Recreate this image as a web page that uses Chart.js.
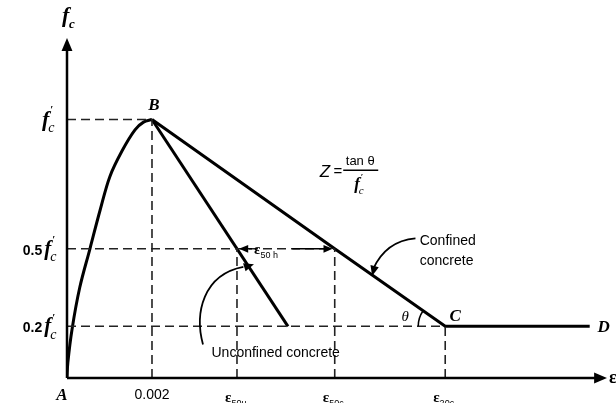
<!DOCTYPE html>
<html>
<head>
<meta charset="utf-8">
<script src="https://cdn.jsdelivr.net/npm/chart.js@4/dist/chart.umd.min.js"></script>
<style>
  html, body { margin: 0; padding: 0; background: #fff; }
  #wrap { width: 616px; height: 403px; position: relative; }
</style>
</head>
<body>
<div id="wrap"><canvas id="c"></canvas></div>
<script>
// strain (x) and stress ratio f/f'c (y)
const strainTicks = [0, 0.002, 0.0040, 0.0063, 0.0089];
const strainTickLabels = ['A', '0.002', 'u', 'c', 'c'];
const stressTicks = [1, 0.5, 0.2];
const stressTickLabels = ['', '0.5', '0.2'];

// ascending branch A -> B
const ascStrain = [0, 0.00002, 0.00012, 0.0003, 0.00054, 0.00078, 0.00101, 0.0013, 0.0016, 0.0018, 0.002];
const ascStress = [0, 0.06, 0.19, 0.35, 0.5, 0.65, 0.78, 0.88, 0.96, 0.99, 1.0];

// descending branches
const unconfinedStrain = [0.002, 0.0052];
const unconfinedStress = [1.0, 0.2];
const confinedStrain = [0.002, 0.0063, 0.0089, 0.0123];
const confinedStress = [1.0, 0.5, 0.2, 0.2];

const X_MAX = 0.01266, Y_MAX = 1.30;

const pts = (xs, ys) => xs.map((x, i) => ({ x: x, y: ys[i] }));

// dashed guide lines built from the tick values
const guides = [
  [[0, 1], [0.002, 1]],
  [[0.002, 0], [0.002, 1]],
  [[0, 0.5], [0.0063, 0.5]],
  [[0.0040, 0], [0.0040, 0.5]],
  [[0.0063, 0], [0.0063, 0.5]],
  [[0, 0.2], [0.0089, 0.2]],
  [[0.0089, 0], [0.0089, 0.2]]
];

const datasets = [];
guides.forEach(g => datasets.push({
  data: g.map(p => ({ x: p[0], y: p[1] })),
  borderColor: '#222', borderWidth: 1.6, borderDash: [9, 5],
  pointRadius: 0, showLine: true
}));
datasets.push({ data: pts(ascStrain, ascStress), borderColor: '#000', borderWidth: 3, pointRadius: 0, showLine: true, tension: 0.35 });
datasets.push({ data: pts(unconfinedStrain, unconfinedStress), borderColor: '#000', borderWidth: 3, pointRadius: 0, showLine: true });
datasets.push({ data: pts(confinedStrain, confinedStress), borderColor: '#000', borderWidth: 3, pointRadius: 0, showLine: true });

const SERIF = '"Liberation Serif", "DejaVu Serif", serif';
const SANS = '"Liberation Sans", Arial, sans-serif';

// draws f'c (italic f, prime, subscript c); returns width
function drawFc(ctx, x, y, size, align) {
  ctx.save();
  ctx.font = 'italic bold ' + size + 'px ' + SERIF;
  const wf = ctx.measureText('f').width;
  ctx.font = 'italic ' + Math.round(size * 0.6) + 'px ' + SERIF;
  const wc = ctx.measureText('c').width;
  const w = wf + wc + 2;
  let x0 = align === 'right' ? x - w : align === 'center' ? x - w / 2 : x;
  ctx.textAlign = 'left';
  ctx.textBaseline = 'alphabetic';
  ctx.font = 'italic bold ' + size + 'px ' + SERIF;
  ctx.fillText('f', x0, y);
  ctx.font = 'bold ' + Math.round(size * 0.5) + 'px ' + SERIF;
  ctx.fillText('\u2032', x0 + wf + 1, y - size * 0.55);
  ctx.font = 'italic ' + Math.round(size * 0.65) + 'px ' + SERIF;
  ctx.fillText('c', x0 + wf - 1, y + size * 0.3);
  ctx.restore();
  return w;
}

function drawEps(ctx, x, y, sub, size) {
  ctx.save();
  ctx.textAlign = 'left';
  ctx.font = 'bold ' + size + 'px ' + SERIF;
  const w = ctx.measureText('\u03b5').width;
  ctx.fillText('\u03b5', x, y);
  ctx.font = Math.round(size * 0.6) + 'px ' + SANS;
  ctx.fillText(sub, x + w, y + size * 0.25);
  ctx.restore();
}

function arrowHead(ctx, x, y, ang, len) {
  ctx.beginPath();
  ctx.moveTo(x, y);
  ctx.lineTo(x - len * Math.cos(ang - 0.4), y - len * Math.sin(ang - 0.4));
  ctx.lineTo(x - len * Math.cos(ang + 0.4), y - len * Math.sin(ang + 0.4));
  ctx.closePath();
  ctx.fill();
}

const decor = {
  id: 'decor',
  afterDatasetsDraw(chart) {
    const ctx = chart.ctx;
    const xs = chart.scales.x, ys = chart.scales.y;
    const X = v => xs.getPixelForValue(v), Y = v => ys.getPixelForValue(v);
    const a = chart.chartArea;
    ctx.save();
    ctx.fillStyle = '#000';
    ctx.strokeStyle = '#000';

    // axes with arrows
    ctx.lineWidth = 2.5;
    ctx.beginPath();
    ctx.moveTo(X(0), Y(0)); ctx.lineTo(X(0), a.top + 4);
    ctx.moveTo(X(0), Y(0)); ctx.lineTo(a.right - 4, Y(0));
    ctx.stroke();
    arrowHead(ctx, X(0), a.top - 4, -Math.PI / 2, 14);
    arrowHead(ctx, a.right + 2, Y(0), 0, 14);

    // axis titles
    ctx.font = 'italic bold 22px ' + SERIF;
    ctx.textAlign = 'left';
    ctx.fillText('f', X(0) - 5, a.top - 20);
    ctx.font = 'italic bold 13px ' + SERIF;
    ctx.fillText('c', X(0) + 2, a.top - 14);
    ctx.font = 'bold 18px ' + SERIF;
    ctx.fillText('\u03b5', a.right + 4, Y(0) + 5);

    // y tick labels
    ctx.textBaseline = 'alphabetic';
    drawFc(ctx, X(0) - 10, Y(stressTicks[0]) + 6, 22, 'right');
    for (let i = 1; i < stressTicks.length; i++) {
      const y = Y(stressTicks[i]) + 6;
      const w = drawFc(ctx, X(0) - 8, y, 21, 'right');
      ctx.font = 'bold 14px ' + SANS;
      ctx.textAlign = 'right';
      ctx.fillText(stressTickLabels[i], X(0) - 10 - w, y);
    }

    // x tick labels
    ctx.textAlign = 'center';
    ctx.font = 'italic bold 17px ' + SERIF;
    ctx.fillText(strainTickLabels[0], X(strainTicks[0]) - 5, Y(0) + 22);
    ctx.font = '14px ' + SANS;
    ctx.fillText(strainTickLabels[1], X(strainTicks[1]), Y(0) + 21);
    const subs = ['50u', '50c', '20c'];
    for (let i = 2; i < strainTicks.length; i++) {
      drawEps(ctx, X(strainTicks[i]) - 12, Y(0) + 24, subs[i - 2], 15);
    }

    // point labels
    ctx.font = 'italic bold 17px ' + SERIF;
    ctx.textAlign = 'center';
    ctx.fillText('B', X(0.002) + 2, Y(1) - 10);
    ctx.fillText('C', X(0.0089) + 10, Y(0.2) - 5);
    ctx.fillText('D', X(0.0123) + 14, Y(0.2) + 6);
    ctx.font = 'italic 15px ' + SERIF;
    ctx.fillText('\u03b8', X(0.0089) - 40, Y(0.2) - 5);

    // angle arc at C
    ctx.lineWidth = 1.5;
    ctx.beginPath();
    const ang = Math.atan2(Y(0.5) - Y(0.2), X(0.0063) - X(0.0089));
    ctx.arc(X(0.0089), Y(0.2), 27, -Math.PI, ang, false);
    ctx.stroke();

    // Z = tan θ / f'c
    const zx = X(0.0069), zy = Y(0.80);
    ctx.font = 'italic 17px ' + SANS;
    ctx.textAlign = 'right';
    ctx.fillText('Z', zx - 30, zy + 6);
    ctx.font = '15px ' + SANS;
    ctx.fillText('=', zx - 18, zy + 5);
    ctx.font = '13px ' + SANS;
    ctx.textAlign = 'center';
    ctx.fillText('tan \u03b8', zx, zy - 6);
    ctx.lineWidth = 1.4;
    ctx.beginPath(); ctx.moveTo(zx - 17, zy - 1); ctx.lineTo(zx + 18, zy - 1); ctx.stroke();
    drawFc(ctx, zx, zy + 18, 17, 'center');

    // confined concrete label + arrow
    ctx.font = '14px ' + SANS;
    ctx.textAlign = 'left';
    ctx.fillText('Confined', X(0.0083), Y(0.535) + 5);
    ctx.fillText('concrete', X(0.0083), Y(0.455) + 5);
    ctx.lineWidth = 1.8;
    ctx.beginPath();
    ctx.moveTo(X(0.0082), Y(0.54));
    ctx.quadraticCurveTo(X(0.0075), Y(0.53), X(0.0072), Y(0.42));
    ctx.stroke();
    arrowHead(ctx, X(0.00718), Y(0.395), Math.PI / 2 + 0.25, 11);

    // unconfined concrete label + arrow
    ctx.fillText('Unconfined concrete', X(0.0034), Y(0.10) + 5);
    ctx.beginPath();
    ctx.moveTo(X(0.0032), Y(0.13));
    ctx.bezierCurveTo(X(0.0030), Y(0.25), X(0.0032), Y(0.40), X(0.00415), Y(0.43));
    ctx.stroke();
    arrowHead(ctx, X(0.0044), Y(0.44), -0.3, 11);

    // ε50h with arrows
    drawEps(ctx, X(0.0044), Y(0.5) + 5, '50 h', 15);
    ctx.lineWidth = 1.6;
    ctx.beginPath();
    ctx.moveTo(X(0.0044) - 2, Y(0.5)); ctx.lineTo(X(0.0040) + 6, Y(0.5));
    ctx.moveTo(X(0.0053), Y(0.5)); ctx.lineTo(X(0.0063) - 8, Y(0.5));
    ctx.stroke();
    arrowHead(ctx, X(0.0040) + 2, Y(0.5), Math.PI, 10);
    arrowHead(ctx, X(0.0063) - 2, Y(0.5), 0, 10);
    ctx.restore();
  }
};

new Chart(document.getElementById('c'), {
  type: 'scatter',
  data: { datasets: datasets },
  options: {
    responsive: true,
    maintainAspectRatio: false,
    animation: false,
    layout: { padding: { top: 42, right: 11, left: 0, bottom: 0 } },
    plugins: { legend: { display: false }, tooltip: { enabled: false } },
    scales: {
      x: {
        type: 'linear', min: 0, max: X_MAX,
        grid: { display: false }, border: { display: false },
        ticks: { display: false },
        afterFit: s => { s.height = 25; }
      },
      y: {
        type: 'linear', min: 0, max: Y_MAX,
        grid: { display: false }, border: { display: false },
        ticks: { display: false },
        afterFit: s => { s.width = 67; }
      }
    }
  },
  plugins: [decor]
});
</script>
</body>
</html>
